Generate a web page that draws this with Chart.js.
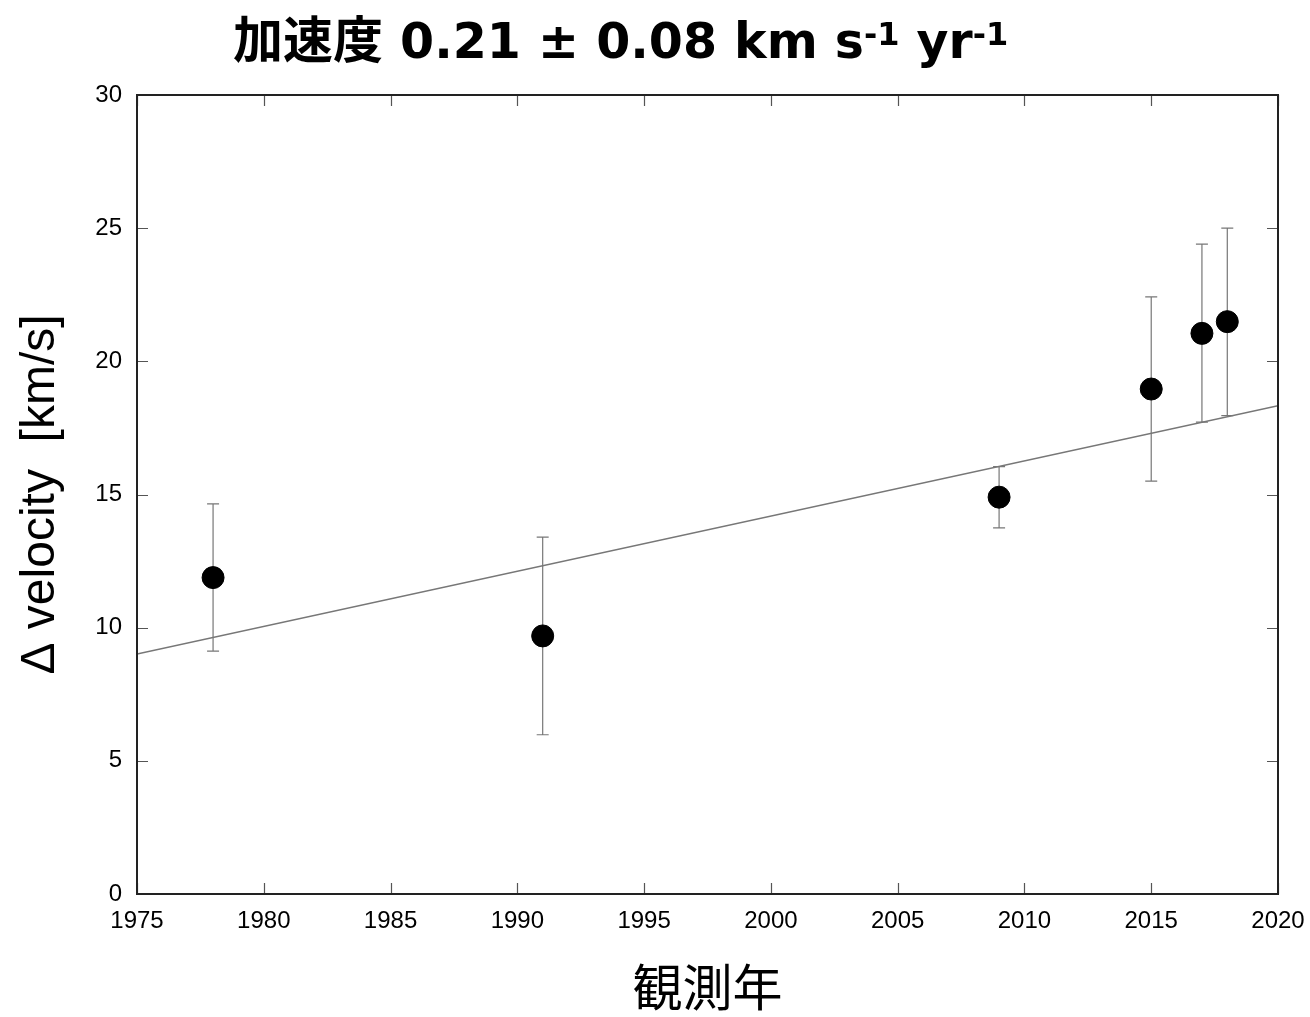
<!DOCTYPE html>
<html>
<head>
<meta charset="utf-8">
<script src="https://cdn.jsdelivr.net/npm/chart.js@4/dist/chart.umd.min.js"></script>
<style>
  html, body { margin: 0; padding: 0; background: #fff; }
  #wrap { position: relative; width: 1310px; height: 1017px; }
  #title {
    position: absolute; left: 233px; top: 0px; white-space: nowrap; line-height: 72px;
    font-family: "DejaVu Sans", sans-serif; font-weight: bold; font-size: 49px; color: #000;
  }
  #title .cjk { font-family: "Noto Sans CJK JP", sans-serif; font-size: 50px; }
  #title sup { font-size: 32px; vertical-align: 13px; line-height: 0; font-weight: 600; }
</style>
</head>
<body>
<div id="wrap">
  <canvas id="chart" width="1310" height="1017"></canvas>
  <div id="title"><span class="cjk">加速度</span> 0.21 ± 0.08 km s<sup>-1</sup> yr<sup>-1</sup></div>
</div>
<script>
// ===== DATA =====
const years = [1978, 1991, 2009, 2015, 2017, 2018];
const dv = [11.88, 9.69, 14.9, 18.96, 21.05, 21.49];
const dvHigh = [14.65, 13.4, 16.05, 22.42, 24.4, 25.0];
const dvLow = [9.12, 5.98, 13.75, 15.5, 17.72, 17.96];
const fitX = [1975, 2020];
const fitY = [9.01, 18.33];
const xTicks = [1975, 1980, 1985, 1990, 1995, 2000, 2005, 2010, 2015, 2020];
const yTicks = [0, 5, 10, 15, 20, 25, 30];

const tickFont = { family: '"Liberation Sans", Arial, sans-serif', size: 24 };

// ===== PLUGINS =====
const errorBars = {
  id: 'errorBars',
  beforeDatasetsDraw(chart) {
    const { ctx, scales: { x, y } } = chart;
    ctx.save();
    ctx.strokeStyle = '#777';
    ctx.lineWidth = 1.2;
    years.forEach((yr, i) => {
      const px = x.getPixelForValue(yr);
      const top = y.getPixelForValue(dvHigh[i]);
      const bot = y.getPixelForValue(dvLow[i]);
      ctx.beginPath();
      ctx.moveTo(px, top); ctx.lineTo(px, bot);
      ctx.moveTo(px - 6, top); ctx.lineTo(px + 6, top);
      ctx.moveTo(px - 6, bot); ctx.lineTo(px + 6, bot);
      ctx.stroke();
    });
    ctx.restore();
  }
};

const innerTicks = {
  id: 'innerTicks',
  afterDraw(chart) {
    const { ctx, chartArea: a, scales: { x, y } } = chart;
    ctx.save();
    ctx.strokeStyle = '#555';
    ctx.lineWidth = 1.2;
    ctx.beginPath();
    xTicks.forEach(v => {
      const px = Math.round(x.getPixelForValue(v)) + 0.5;
      ctx.moveTo(px, a.bottom); ctx.lineTo(px, a.bottom - 11);
      ctx.moveTo(px, a.top); ctx.lineTo(px, a.top + 11);
    });
    yTicks.forEach(v => {
      const py = Math.round(y.getPixelForValue(v)) + 0.5;
      ctx.moveTo(a.left, py); ctx.lineTo(a.left + 11, py);
      ctx.moveTo(a.right, py); ctx.lineTo(a.right - 11, py);
    });
    ctx.stroke();
    ctx.strokeStyle = '#222';
    ctx.lineWidth = 2;
    ctx.strokeRect(a.left, a.top, a.right - a.left, a.bottom - a.top);
    ctx.restore();
  }
};

// ===== CHART =====
new Chart(document.getElementById('chart'), {
  type: 'scatter',
  data: {
    datasets: [
      {
        type: 'line',
        data: fitX.map((v, i) => ({ x: v, y: fitY[i] })),
        borderColor: '#777', borderWidth: 1.5, pointRadius: 0, fill: false
      },
      {
        data: years.map((v, i) => ({ x: v, y: dv[i] })),
        backgroundColor: '#000', borderColor: '#000', pointRadius: 11, pointHoverRadius: 11
      }
    ]
  },
  options: {
    responsive: false,
    animation: false,
    layout: { padding: { top: 95, right: 32, bottom: 0, left: 0 } },
    plugins: { legend: { display: false }, tooltip: { enabled: false } },
    scales: {
      x: {
        type: 'linear', min: 1975, max: 2020,
        afterBuildTicks: s => { s.ticks = xTicks.map(v => ({ value: v })); },
        afterFit: s => { s.height = 123; s.paddingRight = 0; s.paddingLeft = 0; },
        grid: { display: false, drawTicks: false },
        border: { display: false },
        ticks: { color: '#000', font: tickFont, padding: 13, maxRotation: 0, callback: v => String(v) },
        title: {
          display: true, text: '観測年', color: '#000',
          font: { family: '"Noto Sans CJK JP", sans-serif', size: 50 },
          padding: { top: 0, bottom: 0 }
        }
      },
      y: {
        min: 0, max: 30,
        afterBuildTicks: s => { s.ticks = yTicks.map(v => ({ value: v })); },
        afterFit: s => { s.width = 137; s.paddingTop = 0; s.paddingBottom = 0; },
        grid: { display: false, drawTicks: false },
        border: { display: false },
        ticks: { color: '#000', font: tickFont, padding: 15 },
        title: {
          display: true, text: 'Δ velocity  [km/s]', color: '#000',
          font: { family: '"Liberation Sans", Arial, sans-serif', size: 48 },
          padding: { top: 12, bottom: 0 }
        }
      }
    }
  },
  plugins: [errorBars, innerTicks]
});
</script>
</body>
</html>
